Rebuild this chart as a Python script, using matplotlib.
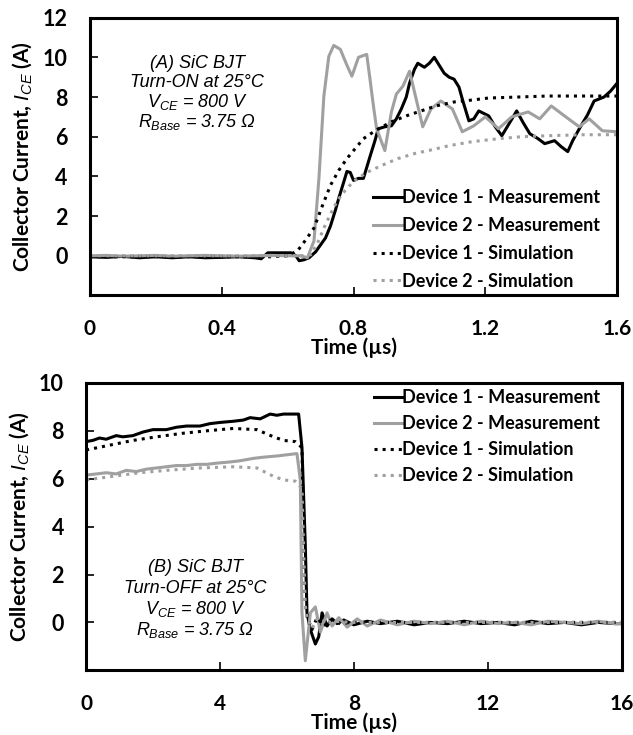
#!/usr/bin/python3
# -*- coding: utf-8 -*-

'''
SiC BJT switching waveforms: measured vs simulated collector current
'''

import matplotlib
matplotlib.use('Agg')
import matplotlib.pyplot as plt

plt.rcParams['font.family'] = ['Lato', 'DejaVu Sans']
plt.rcParams['mathtext.fontset'] = 'custom'
plt.rcParams['mathtext.it'] = 'Liberation Sans:italic'
plt.rcParams['mathtext.rm'] = 'Liberation Sans:italic'

BLACK = '#000000'
GRAY = '#a0a0a0'

# ---- Turn-ON (time in us, current in A) ----
on_t1_meas = [0.0, 0.05, 0.1, 0.15, 0.2, 0.25, 0.3, 0.35, 0.4, 0.45, 0.5, 0.52,
              0.54, 0.58, 0.61, 0.625, 0.635, 0.65, 0.665, 0.685, 0.70, 0.715,
              0.73, 0.745, 0.757, 0.77, 0.78, 0.79, 0.80, 0.815, 0.83, 0.85,
              0.865, 0.875, 0.895, 0.915, 0.93, 0.945, 0.96, 0.97, 0.985, 0.995,
              1.015, 1.03, 1.045, 1.06, 1.075, 1.09, 1.105, 1.12, 1.13, 1.15,
              1.165, 1.18, 1.21, 1.23, 1.25, 1.27, 1.295, 1.315, 1.335, 1.36,
              1.38, 1.41, 1.43, 1.45, 1.465, 1.485, 1.51, 1.53, 1.56, 1.58, 1.6]
on_i1_meas = [-0.05, -0.08, -0.03, -0.1, -0.05, -0.1, -0.05, -0.1, -0.08, -0.05,
              -0.1, -0.15, 0.15, 0.15, 0.15, 0.0, -0.25, -0.2, -0.1, 0.2, 0.55,
              0.9, 1.5, 2.3, 3.0, 3.7, 4.25, 4.2, 3.8, 3.9, 3.9, 5.0, 5.8, 6.4,
              6.5, 6.55, 6.9, 7.4, 8.0, 8.7, 9.4, 9.7, 9.5, 9.7, 10.0, 9.6, 9.2,
              9.0, 8.9, 8.5, 7.9, 6.8, 6.9, 7.3, 7.05, 6.5, 6.05, 6.6, 7.3, 6.7,
              6.15, 5.9, 5.65, 5.8, 5.5, 5.25, 5.8, 6.4, 7.1, 7.8, 8.0, 8.3, 8.7]

on_t2_meas = [0.0, 0.05, 0.1, 0.15, 0.2, 0.25, 0.3, 0.35, 0.4, 0.45, 0.5, 0.55,
              0.6, 0.64, 0.66, 0.68, 0.695, 0.71, 0.725, 0.74, 0.76, 0.78, 0.795,
              0.815, 0.84, 0.85, 0.86, 0.87, 0.895, 0.915, 0.93, 0.95, 0.97, 0.99,
              1.01, 1.035, 1.065, 1.10, 1.13, 1.165, 1.20, 1.24, 1.28, 1.33,
              1.365, 1.40, 1.44, 1.485, 1.515, 1.555, 1.6]
on_i2_meas = [0.0, 0.02, -0.02, 0.0, 0.02, -0.02, 0.0, 0.02, 0.0, -0.02, 0.0,
              0.02, 0.0, 0.0, -0.1, 0.75, 3.9, 8.05, 10.05, 10.6, 10.4, 9.6,
              9.05, 10.0, 10.15, 8.9, 7.6, 6.4, 5.3, 7.25, 8.15, 8.55, 9.3, 7.9,
              6.5, 7.4, 7.8, 7.4, 6.25, 6.55, 7.0, 6.4, 7.0, 7.25, 6.9, 7.55,
              7.05, 6.5, 6.9, 6.3, 6.25]

on_t1_sim = [0.0, 0.55, 0.6, 0.63, 0.655, 0.68, 0.705, 0.73, 0.755, 0.78, 0.83,
             0.87, 0.915, 0.96, 1.005, 1.05, 1.105, 1.16, 1.21, 1.3, 1.39, 1.5, 1.6]
on_i1_sim = [-0.05, -0.05, 0.0, 0.25, 0.8, 1.4, 2.5, 3.55, 4.3, 4.9, 5.9, 6.35,
             6.75, 7.05, 7.3, 7.55, 7.75, 7.85, 7.95, 8.0, 8.05, 8.05, 8.05]

on_t2_sim = [0.0, 0.6, 0.65, 0.67, 0.69, 0.71, 0.73, 0.75, 0.775, 0.80, 0.84,
             0.885, 0.935, 0.985, 1.04, 1.09, 1.16, 1.24, 1.31, 1.39, 1.5, 1.6]
on_i2_sim = [0.0, 0.0, 0.0, 0.05, 0.6, 1.4, 2.1, 2.75, 3.3, 3.75, 4.2, 4.55,
             4.9, 5.15, 5.35, 5.55, 5.75, 5.9, 6.0, 6.05, 6.1, 6.1]

# ---- Turn-OFF (time in us, current in A) ----
off_t1_meas = [0.0, 0.2, 0.4, 0.6, 0.9, 1.1, 1.4, 1.7, 2.0, 2.4, 2.7, 3.0, 3.4,
               3.7, 4.0, 4.4, 4.7, 4.9, 5.2, 5.5, 5.7, 5.9, 6.1, 6.35, 6.45,
               6.55, 6.6, 6.7, 6.85, 6.95, 7.05, 7.2, 7.35, 7.5, 7.7, 8.0, 8.4,
               8.8, 9.3, 9.8, 10.3, 10.8, 11.3, 11.8, 12.3, 12.8, 13.3, 13.8,
               14.3, 14.8, 15.3, 15.8, 16.0]
off_i1_meas = [7.55, 7.6, 7.7, 7.65, 7.8, 7.75, 7.8, 7.95, 8.05, 8.05, 8.15,
               8.2, 8.2, 8.3, 8.35, 8.4, 8.45, 8.55, 8.5, 8.7, 8.65, 8.7, 8.7,
               8.7, 7.3, 3.2, 0.4, -0.3, -0.9, -0.6, 0.4, -0.15, 0.15, -0.05,
               0.1, -0.1, 0.05, -0.05, 0.05, -0.1, 0.0, -0.05, 0.05, -0.05, 0.0,
               -0.1, 0.05, -0.05, 0.0, -0.1, 0.0, -0.05, -0.05]

off_t2_meas = [0.0, 0.3, 0.6, 0.9, 1.2, 1.5, 1.8, 2.1, 2.4, 2.7, 3.0, 3.3, 3.6,
               3.9, 4.3, 4.6, 5.0, 5.3, 5.7, 6.0, 6.3, 6.4, 6.45, 6.55, 6.7,
               6.85, 7.0, 7.2, 7.35, 7.55, 7.8, 8.1, 8.4, 8.8, 9.3, 9.8, 10.3,
               10.8, 11.3, 11.8, 12.3, 12.8, 13.3, 13.8, 14.3, 14.8, 15.3, 15.8,
               16.0]
off_i2_meas = [6.15, 6.2, 6.25, 6.2, 6.35, 6.3, 6.4, 6.45, 6.5, 6.55, 6.55,
               6.6, 6.6, 6.65, 6.7, 6.75, 6.85, 6.9, 6.95, 7.0, 7.05, 5.95, 0.4,
               -1.6, 0.4, 0.65, -0.4, 0.4, -0.15, 0.2, -0.2, 0.15, -0.15, 0.1,
               -0.1, 0.05, -0.05, 0.05, -0.1, 0.05, -0.05, 0.0, -0.1, 0.05, 0.0,
               -0.05, 0.05, -0.05, -0.05]

off_t1_sim = [0.0, 0.7, 1.4, 2.1, 2.9, 3.6, 4.4, 5.1, 5.6, 5.9, 6.25, 6.45,
              6.5, 6.55, 6.6, 6.75, 6.9, 7.1, 7.3, 7.6, 8.0, 9.0, 10.0, 11.0,
              12.0, 13.0, 14.0, 15.0, 16.0]
off_i1_sim = [7.2, 7.4, 7.6, 7.75, 7.9, 8.0, 8.1, 8.05, 7.75, 7.6, 7.55, 7.3,
              3.5, 0.8, 0.25, -0.3, 0.2, -0.15, 0.1, -0.05, 0.0, 0.0, 0.0, 0.0,
              0.0, 0.0, 0.0, 0.0, 0.0]

off_t2_sim = [0.0, 0.8, 1.6, 2.4, 3.4, 4.4, 5.1, 5.6, 5.9, 6.25, 6.45, 6.5,
              6.55, 6.6, 6.75, 6.9, 7.1, 7.4, 8.0, 9.0, 10.0, 11.0, 12.0, 13.0,
              14.0, 15.0, 16.0]
off_i2_sim = [5.95, 6.1, 6.25, 6.35, 6.45, 6.5, 6.45, 6.1, 5.95, 5.9, 5.6,
              3.0, 0.7, 0.2, -0.25, 0.15, -0.1, 0.05, 0.0, 0.0, 0.0, 0.0, 0.0,
              0.0, 0.0, 0.0, 0.0]

LABELS = ['Device 1 - Measurement', 'Device 2 - Measurement',
          'Device 1 - Simulation', 'Device 2 - Simulation']
NOTE_FONT = dict(family='Liberation Sans', style='italic', size=13)


def style_axes(ax, xlim, xticks, xlabels, ylim, yticks):
    '''Excel-like frame: thick box, inward ticks, bold labels'''
    ax.set_xlim(*xlim)
    ax.set_ylim(*ylim)
    ax.set_xticks(xticks)
    ax.set_xticklabels(xlabels)
    ax.set_yticks(yticks)
    for spine in ax.spines.values():
        spine.set_linewidth(2.2)
    ax.tick_params(axis='x', direction='in', length=6, width=1.2, pad=17,
                   labelsize=15)
    ax.tick_params(axis='y', direction='in', length=6, width=1.2, pad=16,
                   labelsize=15.5)
    for lab in ax.get_xticklabels() + ax.get_yticklabels():
        lab.set_fontweight('bold')
    ax.set_xlabel('Time (µs)', fontsize=15, fontweight='bold', labelpad=-1)
    ax.set_ylabel(r'Collector Current, $I_{CE}$ (A)', fontsize=15,
                  fontweight='bold', labelpad=6)


def draw_series(ax, series):
    '''Measured traces solid, simulated traces dotted'''
    colors = [BLACK, GRAY, BLACK, GRAY]
    styles = ['-', '-', ':', ':']
    for (t, i), col, ls, lab in zip(series, colors, styles, LABELS):
        ax.plot(t, i, color=col, linestyle=ls, linewidth=2.2, label=lab,
                solid_joinstyle='round')
    handles, labels = ax.get_legend_handles_labels()
    return handles, labels


def main():
    '''
    Main function
    '''
    fig = plt.figure(figsize=(6.33, 7.35), dpi=100)

    # Turn-ON panel
    ax1 = fig.add_axes([0.142, 0.598, 0.833, 0.378])
    h, l = draw_series(ax1, [(on_t1_meas, on_i1_meas), (on_t2_meas, on_i2_meas),
                             (on_t1_sim, on_i1_sim), (on_t2_sim, on_i2_sim)])
    style_axes(ax1, (0, 1.6), [0, 0.4, 0.8, 1.2, 1.6],
               ['0', '0.4', '0.8', '1.2', '1.6'], (-2, 12), range(0, 13, 2))
    ax1.legend(h, l, loc='upper left', bbox_to_anchor=(0.52, 0.415),
               frameon=False, handlelength=1.6, handletextpad=0.0,
               borderpad=0, labelspacing=0.6,
               prop=dict(weight='bold', size=13))
    notes_on = ['(A) SiC BJT', 'Turn-ON at 25°C', r'$V_{CE}$ = 800 V',
                r'$R_{Base}$ = 3.75 Ω']
    for k, txt in enumerate(notes_on):
        fig.text(197 / 633, 1 - (63 + 19.5 * k) / 735, txt, ha='center',
                 va='center', **NOTE_FONT)

    # Turn-OFF panel
    ax2 = fig.add_axes([0.136, 0.088, 0.846, 0.391])
    h, l = draw_series(ax2, [(off_t1_meas, off_i1_meas),
                             (off_t2_meas, off_i2_meas),
                             (off_t1_sim, off_i1_sim), (off_t2_sim, off_i2_sim)])
    style_axes(ax2, (0, 16), [0, 4, 8, 12, 16], ['0', '4', '8', '12', '16'],
               (-2, 10), range(0, 11, 2))
    ax2.legend(h, l, loc='upper left', bbox_to_anchor=(0.52, 1.01),
               frameon=False, handlelength=1.6, handletextpad=0.0,
               borderpad=0, labelspacing=0.5,
               prop=dict(weight='bold', size=13))
    notes_off = ['(B) SiC BJT', 'Turn-OFF at 25°C', r'$V_{CE}$ = 800 V',
                 r'$R_{Base}$ = 3.75 Ω']
    for k, txt in enumerate(notes_off):
        fig.text(195 / 633, 1 - (568 + 20.5 * k) / 735, txt, ha='center',
                 va='center', **NOTE_FONT)

    fig.savefig('out.png', dpi=100)


if __name__ == '__main__':
    main()
